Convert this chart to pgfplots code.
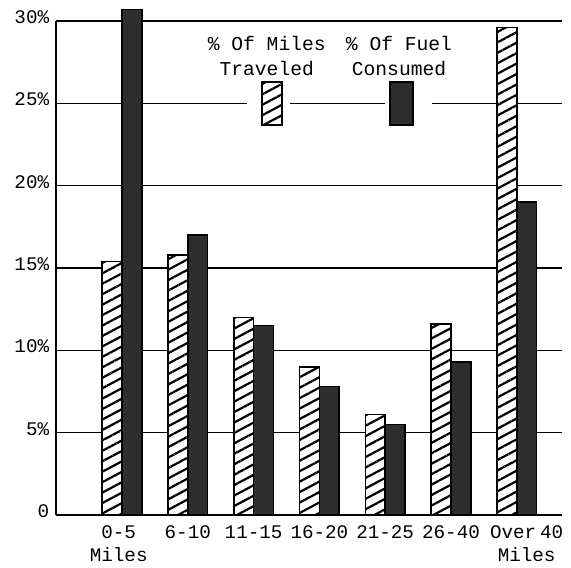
\documentclass[border=0pt]{standalone}
\usepackage{fontspec}
\setmainfont{Liberation Mono}
\usepackage{pgfplots}
\pgfplotsset{compat=1.18}
\usetikzlibrary{patterns.meta}

% share of miles vs share of fuel by trip length
\pgfplotstableread{
pos miles fuel
0 15.4 30.7
1 15.8 17.0
2 12.0 11.5
3 9.0 7.8
4 6.1 5.5
5 11.6 9.3
6 29.6 19.0
}\tripdata

\tikzset{hatchbar/.style={draw=black, line width=0.8pt, fill=white,
  postaction={pattern={Lines[angle=28, distance=4.6pt, line width=1.1pt]}}}}

\begin{document}
\begin{tikzpicture}
\begin{axis}[
  scale only axis,
  width=252.5pt, height=246.5pt,
  xmin=-1, xmax=6.69,
  ymin=0, ymax=30,
  clip=false,
  axis lines*=left,
  x axis line style={-, line width=1pt},
  y axis line style={-, line width=1pt},
  ymajorgrids,
  grid style={black, line width=0.75pt},
  major tick length=0pt,
  ytick={0,5,10,15,20,25,30},
  yticklabels={0,5\%,10\%,15\%,20\%,25\%,30\%},
  yticklabel style={yshift=2pt},
  % last label sits a little right of its bars, as in the original
  xtick={-0.05,1,2,3,4,5,6.15},
  xticklabels={{0-5\\Miles},6-10,11-15,16-20,21-25,26-40,{Over\hspace{0.2em}40\\Miles}},
  xticklabel style={align=center, yshift=-2pt},
  tick label style={font=\fontsize{9.6}{11}\selectfont},
  ybar, bar width=0.3,
]
\addplot[hatchbar, bar shift=-0.15] table[x=pos, y=miles] {\tripdata};
\addplot[draw=black, line width=0.8pt, fill=black!82, bar shift=0.15] table[x=pos, y=fuel] {\tripdata};

% legend, sitting on the 25% grid line
\fill[white] (axis cs:1.90,23.4) rectangle (axis cs:2.55,26.6);
\fill[white] (axis cs:4.00,23.4) rectangle (axis cs:4.71,26.6);
\path[hatchbar] (axis cs:2.13,23.7) rectangle (axis cs:2.43,26.3);
\path[draw=black, line width=0.8pt, fill=black!82] (axis cs:4.07,23.7) rectangle (axis cs:4.42,26.3);
\node[align=center, font=\fontsize{9.8}{12.5}\selectfont] at (axis cs:2.2,27.9) {\% Of Miles\\Traveled};
\node[align=center, font=\fontsize{9.8}{12.5}\selectfont] at (axis cs:4.21,27.9) {\% Of Fuel\\Consumed};

\path (axis cs:-1.854,-3.1) (axis cs:6.824,31.28);
\end{axis}
\end{tikzpicture}
\end{document}
